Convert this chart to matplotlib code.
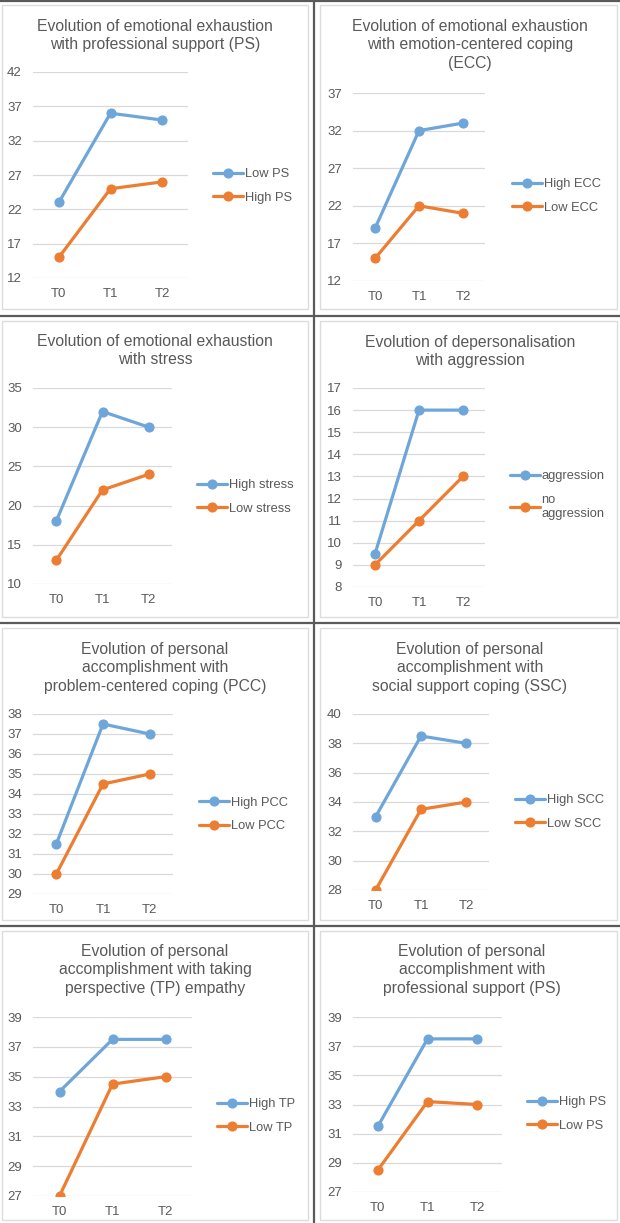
import matplotlib
matplotlib.use("Agg")
import matplotlib.pyplot as plt
from matplotlib.lines import Line2D
from matplotlib.patches import Rectangle

W, H = 620, 1223
plt.rcParams['font.family'] = ['Liberation Sans', 'DejaVu Sans']

times = ["T0", "T1", "T2"]

# Panel 1
p1_title = "Evolution of emotional exhaustion\nwith professional support (PS)"
p1_labels = ["Low PS", "High PS"]
p1_blue = [23, 36, 35]
p1_orange = [15, 25, 26]
p1_ticks = [12, 17, 22, 27, 32, 37, 42]

# Panel 2
p2_title = "Evolution of emotional exhaustion\nwith emotion-centered coping\n(ECC)"
p2_labels = ["High ECC", "Low ECC"]
p2_blue = [19, 32, 33]
p2_orange = [15, 22, 21]
p2_ticks = [12, 17, 22, 27, 32, 37]

# Panel 3
p3_title = "Evolution of emotional exhaustion\nwith stress"
p3_labels = ["High stress", "Low stress"]
p3_blue = [18, 32, 30]
p3_orange = [13, 22, 24]
p3_ticks = [10, 15, 20, 25, 30, 35]

# Panel 4
p4_title = "Evolution of depersonalisation\nwith aggression"
p4_labels = ["aggression", "no\naggression"]
p4_blue = [9.5, 16, 16]
p4_orange = [9, 11, 13]
p4_ticks = [8, 9, 10, 11, 12, 13, 14, 15, 16, 17]

# Panel 5
p5_title = "Evolution of personal\naccomplishment with\nproblem-centered coping (PCC)"
p5_labels = ["High PCC", "Low PCC"]
p5_blue = [31.5, 37.5, 37]
p5_orange = [30, 34.5, 35]
p5_ticks = [29, 30, 31, 32, 33, 34, 35, 36, 37, 38]

# Panel 6
p6_title = "Evolution of personal\naccomplishment with\nsocial support coping (SSC)"
p6_labels = ["High SCC", "Low SCC"]
p6_blue = [33, 38.5, 38]
p6_orange = [28, 33.5, 34]
p6_ticks = [28, 30, 32, 34, 36, 38, 40]

# Panel 7
p7_title = "Evolution of personal\naccomplishment with taking\nperspective (TP) empathy"
p7_labels = ["High TP", "Low TP"]
p7_blue = [34, 37.5, 37.5]
p7_orange = [27, 34.5, 35]
p7_ticks = [27, 29, 31, 33, 35, 37, 39]

# Panel 8
p8_title = "Evolution of personal\naccomplishment with\nprofessional support (PS)"
p8_labels = ["High PS", "Low PS"]
p8_blue = [31.5, 37.5, 37.5]
p8_orange = [28.5, 33.2, 33]
p8_ticks = [27, 29, 31, 33, 35, 37, 39]

BLUE = "#6FA6DA"
ORANGE = "#ED7D31"
TXT = "#595959"
GRID = "#D9D9D9"

fig = plt.figure(figsize=(W / 100, H / 100), dpi=100)
fig.patch.set_facecolor("white")

def fx(x):
    return x / W

def fy(y):
    return 1 - y / H

# layout: (plot x0, x1, y_top, y_bottom, title_center_x, title_top_y, legend_x, legend_mid_y, frame)
layouts = [
    (33, 188, 72, 278, 155, 19, 213, 186, (2, 5, 308, 309)),
    (353, 485, 93, 281, 470, 19, 512, 196, (320, 5, 617, 309)),
    (33, 172, 388, 584, 155, 334, 197, 497, (2, 321, 308, 617)),
    (353, 485, 388, 587, 470, 335, 510, 495, (320, 321, 617, 617)),
    (33, 173, 714, 894, 155, 642, 199, 814.5, (2, 628, 308, 920)),
    (353, 489, 714, 890, 470, 642, 515, 812, (320, 628, 617, 920)),
    (33, 192, 1017, 1196, 155, 944, 217, 1116, (2, 931, 308, 1220)),
    (353, 502, 1017, 1192, 472, 944, 527, 1114, (320, 931, 617, 1220)),
]

panels = [
    (p1_title, p1_labels, p1_blue, p1_orange, p1_ticks),
    (p2_title, p2_labels, p2_blue, p2_orange, p2_ticks),
    (p3_title, p3_labels, p3_blue, p3_orange, p3_ticks),
    (p4_title, p4_labels, p4_blue, p4_orange, p4_ticks),
    (p5_title, p5_labels, p5_blue, p5_orange, p5_ticks),
    (p6_title, p6_labels, p6_blue, p6_orange, p6_ticks),
    (p7_title, p7_labels, p7_blue, p7_orange, p7_ticks),
    (p8_title, p8_labels, p8_blue, p8_orange, p8_ticks),
]

# panel frames
for lay in layouts:
    x0, y0, x1, y1 = lay[8]
    fig.patches.append(Rectangle((fx(x0), fy(y1)), fx(x1 - x0), (y1 - y0) / H,
                                 transform=fig.transFigure, fill=False,
                                 edgecolor="#DCDCDC", linewidth=1.0, zorder=0))

for (title, labels, blue, orange, ticks), lay in zip(panels, layouts):
    x0, x1, yt, yb, tcx, tty, lx, lmy, _ = lay
    ax = fig.add_axes([fx(x0), fy(yb), fx(x1 - x0), (yb - yt) / H])
    ax.set_facecolor("none")
    xs = list(range(len(times)))
    ax.plot(xs, blue, color=BLUE, lw=2.3, marker="o", ms=6.3, label=labels[0],
            solid_capstyle="round", zorder=3)
    ax.plot(xs, orange, color=ORANGE, lw=2.3, marker="o", ms=6.3, label=labels[1],
            solid_capstyle="round", zorder=3)
    ax.set_xlim(-0.5, len(times) - 0.5)
    ax.set_ylim(ticks[0], ticks[-1])
    ax.set_yticks(ticks)
    ax.set_xticks(xs)
    ax.set_xticklabels(times)
    for s in ax.spines.values():
        s.set_visible(False)
    ax.grid(axis="y", color=GRID, lw=0.9, zorder=0)
    ax.set_axisbelow(True)
    ax.tick_params(axis="both", length=0, colors=TXT, labelsize=9.5)
    ax.tick_params(axis="y", pad=8)
    ax.tick_params(axis="x", pad=7)
    for lab in ax.get_yticklabels() + ax.get_xticklabels():
        lab.set_color(TXT)
    fig.text(fx(tcx), fy(tty), title, ha="center", va="top", fontsize=11.3,
             color=TXT, linespacing=1.28)
    leg = ax.legend(loc="center left", bbox_to_anchor=(fx(lx), fy(lmy)),
                    bbox_transform=fig.transFigure, frameon=False, fontsize=9.3,
                    handlelength=2.3, handletextpad=0.15, labelspacing=0.9,
                    borderpad=0, borderaxespad=0)
    for t in leg.get_texts():
        t.set_color(TXT)

# dark separators
sep_color = "#5A5A5A"
for yy in [1, 316, 623, 926]:
    fig.add_artist(Line2D([0, 1], [fy(yy), fy(yy)], transform=fig.transFigure,
                          color=sep_color, lw=1.6))
fig.add_artist(Line2D([fx(314), fx(314)], [0, 1], transform=fig.transFigure,
                      color=sep_color, lw=1.6))

fig.savefig("out.png", dpi=100)
